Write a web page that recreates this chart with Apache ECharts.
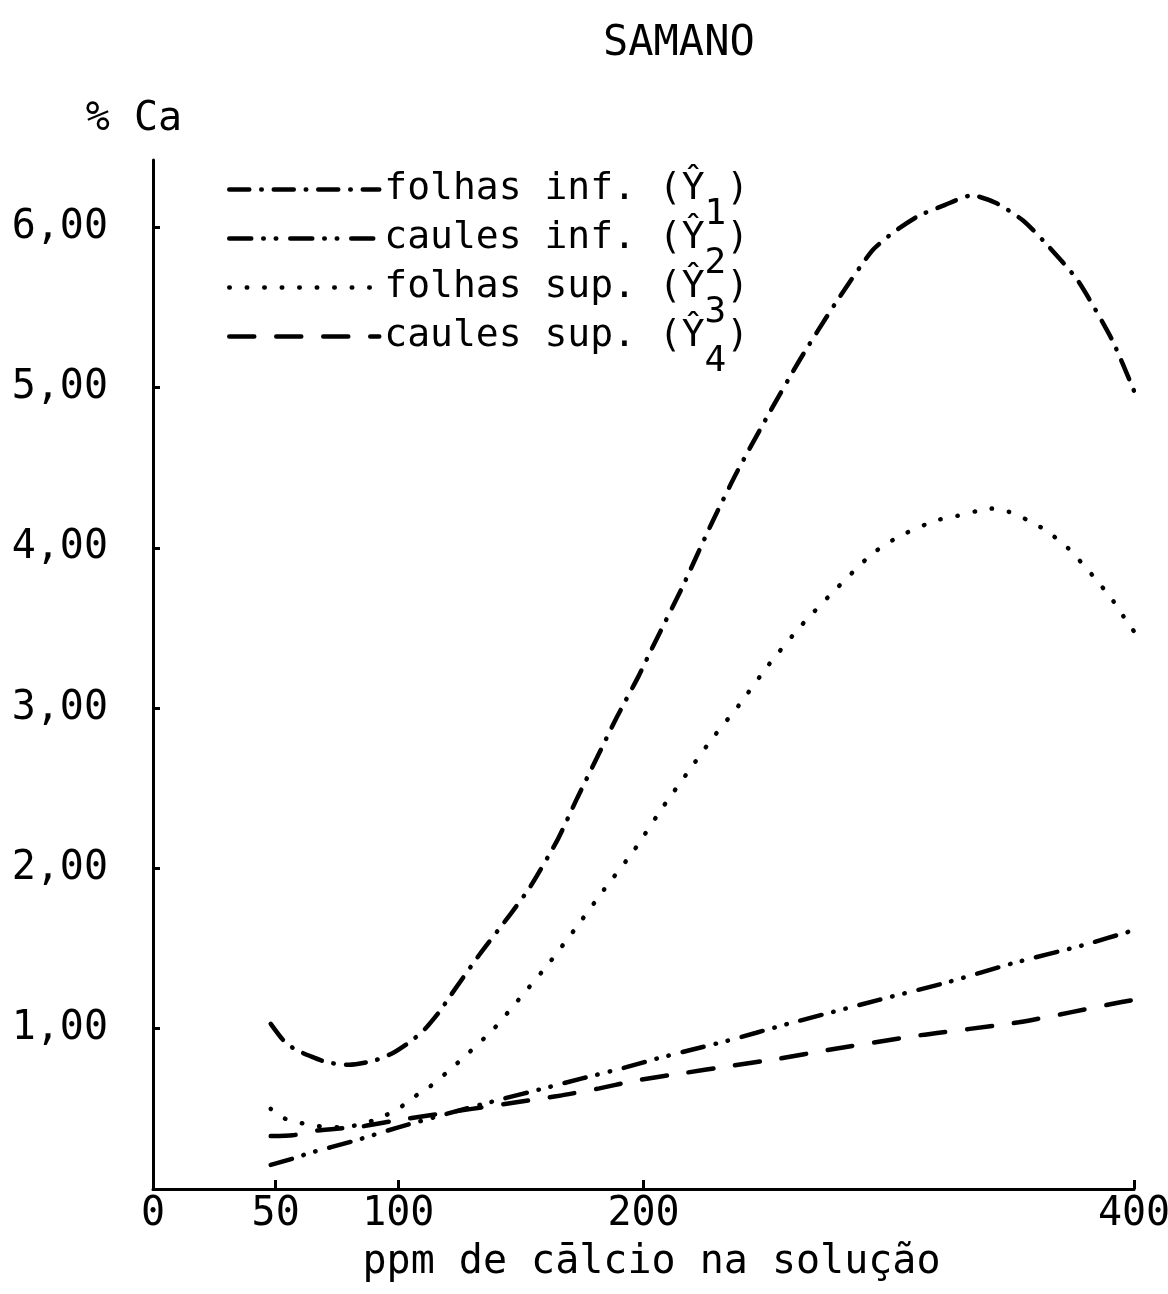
<!DOCTYPE html>
<html>
<head>
<meta charset="utf-8">
<script src="https://cdn.jsdelivr.net/npm/echarts@6/dist/echarts.min.js"></script>
<style>
  html, body { margin: 0; padding: 0; background: #fff; }
  #chart { width: 1168px; height: 1294px; }
</style>
</head>
<body>
<div id="chart"></div>
<script>
// Typewriter-like monospaced face for every text
const FONT = "'DejaVu Sans Mono', 'Liberation Mono', monospace";

// Axis ticks
const xTickLabels = [0, 50, 100, 200, 400];
const xTickMarks = [50, 100, 200, 400];
const yTickLabels = [1, 2, 3, 4, 5, 6];

// Series names and their Ŷ indices
const seriesNames = ['folhas inf.', 'caules inf.', 'folhas sup.', 'caules sup.'];
const seriesIdx = ['1', '2', '3', '4'];

// [ppm Ca in solution, % Ca]
const folhasInf = [[48,1.03],[53,0.93],[58,0.87],[64,0.83],[71,0.79],[80,0.775],[90,0.80],[98,0.85],[105,0.92],[111,1.0],[117,1.11],[121,1.2],[133,1.46],[146,1.72],[154,1.89],[165,2.18],[173,2.44],[181,2.69],[189,2.94],[198,3.20],[204,3.39],[216,3.76],[228,4.16],[238,4.47],[250.5,4.82],[264,5.18],[278,5.52],[293,5.85],[302,5.97],[312,6.07],[323,6.14],[334,6.20],[344,6.15],[355,6.04],[364,5.90],[377,5.67],[391,5.30],[400,4.98]];
const caulesInf = [[48,0.15],[57,0.19],[64,0.225],[82,0.30],[99,0.38],[120,0.47],[142,0.56],[160,0.63],[175,0.69],[193,0.76],[207,0.82],[220,0.87],[233,0.92],[246,0.975],[260,1.035],[296,1.18],[324,1.29],[351,1.41],[379,1.52],[400,1.615]];
const folhasSup = [[48,0.50],[52,0.45],[58,0.42],[66,0.395],[75,0.385],[84,0.40],[92,0.44],[100,0.50],[106,0.57],[113,0.64],[120,0.73],[127,0.825],[139,1.0],[149,1.18],[161,1.40],[172,1.62],[184,1.87],[196,2.11],[208,2.385],[219,2.62],[228,2.81],[239,3.02],[251,3.27],[264,3.51],[277,3.72],[293,3.96],[304,4.07],[319,4.17],[328,4.20],[336,4.23],[342,4.245],[349,4.225],[357,4.17],[364,4.11],[373,4.00],[383,3.83],[391,3.68],[398,3.52],[400,3.48]];
const caulesSup = [[48,0.33],[57,0.335],[67,0.365],[85,0.39],[100,0.43],[130,0.50],[165,0.58],[182,0.628],[198,0.68],[215,0.72],[235,0.767],[256,0.815],[275,0.867],[313,0.96],[353,1.04],[395,1.167],[400,1.18]];

const seriesData = [folhasInf, caulesInf, folhasSup, caulesSup];
const dashes = [
  [20, 12, 0.5, 12],            // dash-dot
  [22, 12, 0.5, 12, 0.5, 14],   // dash-dot-dot
  [0.5, 17],                    // dotted
  [25, 22]                      // dashed
];

const chart = echarts.init(document.getElementById('chart'), null, { renderer: 'canvas' });

const txt = { color: '#000', fontFamily: FONT };

// One legend block per row, rows 49px apart; the index digit is typed half a line low
const legendRowCenters = [187, 236, 285, 334];
const legends = seriesNames.map((name, i) => ({
  orient: 'vertical',
  left: 222,
  top: legendRowCenters[i] - 21.5,
  itemWidth: 150,
  itemHeight: 14,
  data: [name],
  selectedMode: false,
  lineStyle: { width: 4.5 },
  itemStyle: { opacity: 0 },
  formatter: n => '{t|' + n + ' (Ŷ}{s|' + seriesIdx[seriesNames.indexOf(n)] + '}{t|)}',
  textStyle: {
    ...txt,
    fontSize: 38,
    rich: {
      t: { ...txt, fontSize: 38 },
      s: { ...txt, fontSize: 36, padding: [50, 0, 0, 0] }
    }
  }
}));

chart.setOption({
  backgroundColor: '#fff',
  animation: false,
  title: {
    text: 'SAMANO',
    left: 598,
    top: 18,
    textStyle: { ...txt, fontSize: 42, fontWeight: 'normal' }
  },
  legend: legends,
  grid: { left: 153, right: 34, top: 160, bottom: 105, containLabel: false, outerBoundsMode: 'none' },
  xAxis: {
    type: 'value',
    min: 0,
    max: 400,
    interval: 50,
    name: 'ppm de cālcio na solução',
    nameLocation: 'middle',
    nameGap: 54,
    nameTextStyle: { ...txt, fontSize: 40, lineHeight: 40, padding: [0, 0, 0, 16] },
    axisLine: { lineStyle: { color: '#000', width: 3 } },
    axisTick: { inside: true, length: 9, lineStyle: { color: '#000', width: 3 }, customValues: xTickMarks },
    axisLabel: { ...txt, fontSize: 40, margin: 6, customValues: xTickLabels },
    splitLine: { show: false }
  },
  yAxis: {
    type: 'value',
    min: 0,
    max: 6.42,
    interval: 1,
    name: '% Ca',
    nameLocation: 'end',
    nameGap: 20,
    nameTextStyle: { ...txt, fontSize: 40, lineHeight: 40, align: 'center', verticalAlign: 'bottom', padding: [0, 38, 0, 0] },
    axisLine: { lineStyle: { color: '#000', width: 3 } },
    axisTick: { inside: true, length: 7, lineStyle: { color: '#000', width: 3 }, customValues: yTickLabels },
    axisLabel: {
      ...txt,
      fontSize: 40,
      margin: 45,
      customValues: yTickLabels,
      formatter: v => v.toFixed(2).replace('.', ',')
    },
    splitLine: { show: false }
  },
  series: seriesNames.map((name, i) => ({
    type: 'line',
    name: name,
    data: seriesData[i],
    symbol: 'none',
    smooth: 0.2,
    lineStyle: { color: '#000', width: 4.5, type: dashes[i], cap: 'round' },
    itemStyle: { color: '#000' },
    silent: true
  }))
});
</script>
</body>
</html>
